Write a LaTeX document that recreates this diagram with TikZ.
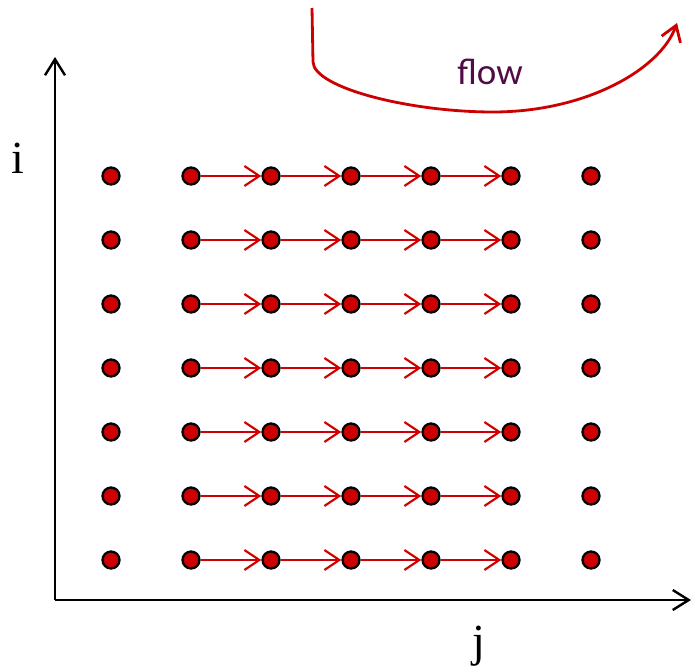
\documentclass[tikz,border=0pt]{standalone}
\usepackage{fontspec}
\setmainfont{Liberation Serif}
\newfontfamily\flowfont{Carlito}
\usetikzlibrary{arrows.meta}
\definecolor{dotred}{HTML}{CC0000}
\definecolor{flowtext}{HTML}{4F0C45}
\tikzset{
  gridpt/.style={circle, draw=black, fill=dotred, line width=2.3pt,
                 minimum size=17pt, inner sep=0pt},
  axis/.style={line width=2.4pt, -{Straight Barb[length=16pt,width=20pt]}},
  flowarrow/.style={dotred, line width=2.2pt,
                    -{Straight Barb[length=15pt,width=20pt]}},
  axislabel/.style={font=\fontsize{46}{50}\selectfont, inner sep=0pt, anchor=base},
}

\begin{document}
\begin{tikzpicture}[x=1pt, y=-1pt]
    \useasboundingbox (0,0) rectangle (692,671);
    % axes
    \coordinate (origin) at (55,600);
    \coordinate (iend) at (55,57);
    \coordinate (jend) at (691,600);
    \draw[axis] (origin) -- (iend);
    \draw[axis] (origin) -- (jend);
    \node[axislabel] (ilabel) at (18,173) {i};
    \node[axislabel] (jlabel) at (479,656) {j};
    % iteration points
    \foreach \r in {0,...,6} {
      \foreach \c in {0,...,6} {
        \node[gridpt] (d-\r-\c) at (111+80*\c, 176+64*\r) {};
      }
    }
    % dependences along j
    \foreach \r in {0,...,6} {
      \foreach \c [evaluate=\c as \n using int(\c+1)] in {1,...,4} {
        \draw[flowarrow] (d-\r-\c) -- (d-\r-\n);
      }
    }
    % flow direction
    \coordinate (fstart) at (312,8);
    \coordinate (fbend) at (313,62);
    \coordinate (flow) at (493,112);
    \coordinate (fend) at (677,23);
    \draw[flowarrow, line width=2.8pt] (fstart) -- (fbend)
      .. controls (314,88) and (410,112) .. (flow)
      .. controls (585,112) and (660,70) .. (fend);
    \node[font=\flowfont\fontsize{37}{40}\selectfont, text=flowtext] (flowlabel) at (490,72) {flow};
  \end{tikzpicture}
\end{document}
